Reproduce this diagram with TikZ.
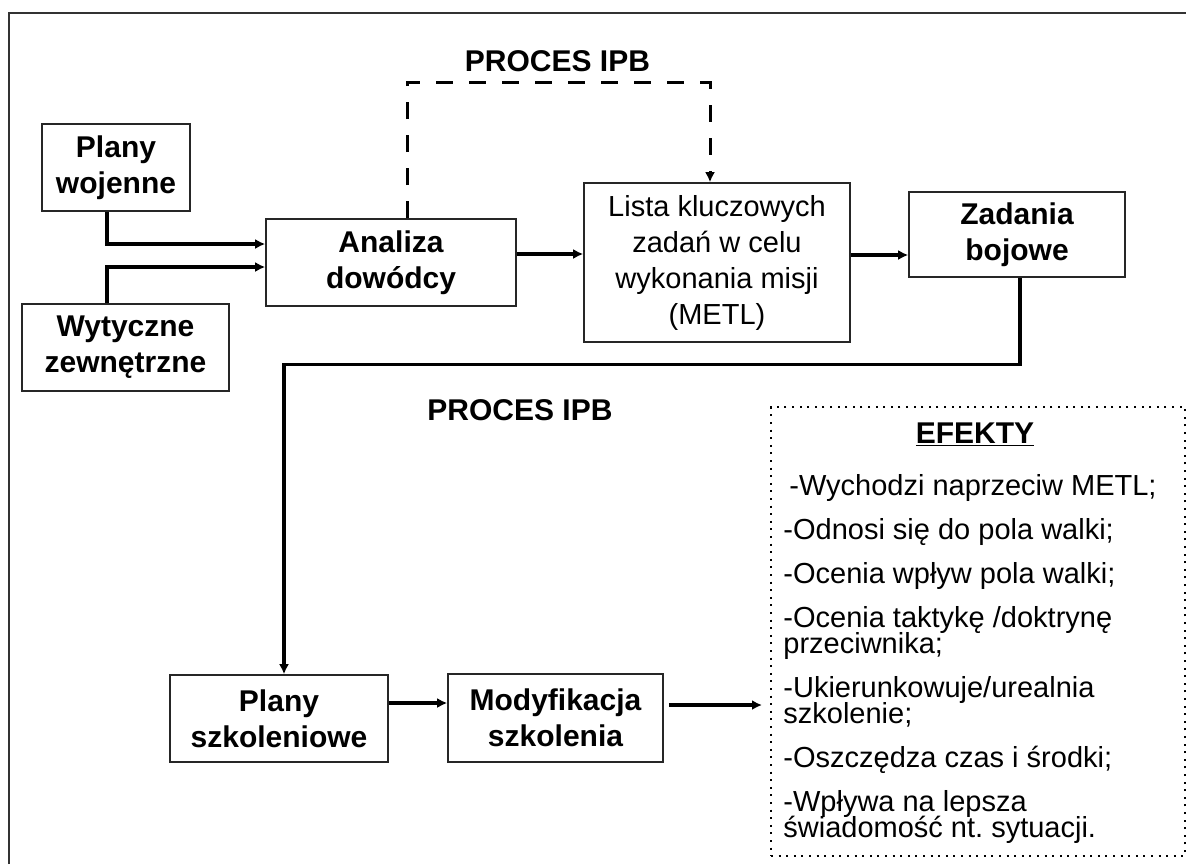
\documentclass[tikz,border=0pt]{standalone}
\usepackage{fontspec}
\setmainfont{Liberation Sans}
\usetikzlibrary{arrows.meta,calc}

\newcommand\efektyfont{\fontsize{14.5}{13}\selectfont\lineskiplimit=-20pt\relax}

\tikzset{
  blok/.style={draw=black!85, line width=0.8pt, align=center, inner sep=0pt,
    font=\bfseries\fontsize{15}{18}\selectfont},
  strz/.style={line width=1.6pt, -{Latex[length=5pt,width=5pt]}},
  napis/.style={font=\bfseries\fontsize{15}{18}\selectfont},
}

\begin{document}
\begin{tikzpicture}[x=0.5pt,y=-0.5pt]
	\useasboundingbox (0,0) rectangle (1187,864);
	\draw[line width=1pt, black!80] (9,864) |- (1186,13);

	\node[blok, minimum width=74pt, minimum height=43.5pt] (pw) at (116,167.5) {Plany\\wojenne};
	\node[blok, minimum width=103.5pt, minimum height=43.5pt] (wz) at (125.5,347.5) {Wytyczne\\zewnętrzne};
	\node[blok, minimum width=125pt, minimum height=43.5pt] (ad) at (391,262.5) {Analiza\\dowódcy};
	\node[blok, minimum width=133pt, minimum height=79.5pt, font=\fontsize{14.5}{18}\selectfont] (lk) at (717,262.5)
		{Lista kluczowych\\zadań w celu\\wykonania misji\\(METL)};
	\node[blok, minimum width=108pt, minimum height=42.5pt] (zb) at (1017,234.5) {Zadania\\bojowe};
	\node[blok, minimum width=109pt, minimum height=43.5pt] (ps) at (279,718.5) {Plany\\szkoleniowe};
	\node[blok, minimum width=107.5pt, minimum height=44pt] (ms) at (555.5,718) {Modyfikacja\\szkolenia};
	\node[draw, line width=1pt, dash pattern=on 1pt off 2.8pt, minimum width=207pt, minimum height=224.5pt] (ef) at (978,631.5) {};

	\node[napis] (ipb1) at (557.5,61) {PROCES IPB};
	\node[napis] (ipb2) at (520,410) {PROCES IPB};
	\node[napis, anchor=base] (eft) at (975,443) {\underline{EFEKTY}};
	\node[anchor=north west, align=left, inner sep=0pt, font=\efektyfont] (efl) at (783,474)
		{\hspace*{3pt}-Wychodzi naprzeciw METL;\\[9pt]
		-Odnosi się do pola walki;\\[9pt]
		-Ocenia wpływ pola walki;\\[9pt]
		-Ocenia taktykę /doktrynę\\
		przeciwnika;\\[9pt]
		-Ukierunkowuje/urealnia\\
		szkolenie;\\[9pt]
		-Oszczędza czas i środki;\\[9pt]
		-Wpływa na lepsza\\
		świadomość nt.\ sytuacji.};

	% polaczenia
	\draw[strz] ($(pw.south)+(-9,0)$) |- ($(ad.west)+(0,-18.5)$);
	\draw[strz] ($(wz.north)+(-18.5,0)$) |- ($(ad.west)+(0,4.5)$);
	\draw[strz] ($(ad.east)+(0,-8.5)$) -- ($(lk.west)+(0,-8.5)$);
	\draw[strz] ($(lk.east)+(0,-7.5)$) -- ($(zb.west)+(0,20.5)$);
	\draw[strz, line width=1.5pt, dash pattern=on 8.5pt off 8pt] ($(ad.north)+(16,0)$) -- ++(0,-136) -| ($(lk.north)+(-7,0)$);
	\draw[strz] ($(zb.south)+(3,0)$) |- ($(ps.north)+(5,-310)$) -- ($(ps.north)+(5,0)$);
	\draw[strz] ($(ps.east)+(0,-15.5)$) -- ($(ms.west)+(0,-15)$);
	\draw[strz] ($(ms.east)+(5,-13)$) -- ($(ef.west)+(-8,73.5)$);
\end{tikzpicture}
\end{document}
